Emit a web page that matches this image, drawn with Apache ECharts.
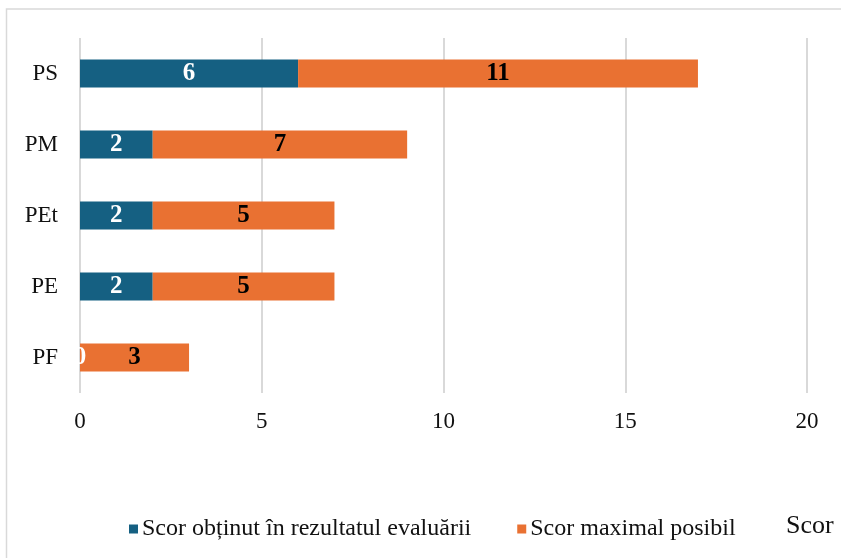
<!DOCTYPE html>
<html>
<head>
<meta charset="utf-8">
<script src="https://cdn.jsdelivr.net/npm/echarts@6/dist/echarts.min.js"></script>
<style>
  html, body { margin: 0; padding: 0; background: #ffffff; }
  #chart { width: 841px; height: 558px; }
</style>
</head>
<body>
<div id="chart"></div>
<script>
// Categories listed bottom to top on the vertical axis
const categories = ['PF', 'PE', 'PEt', 'PM', 'PS'];
// Score obtained in the evaluation
const scoreObtained = [0, 2, 2, 2, 6];
// Remaining points up to the maximum possible score
const scoreMaximal = [3, 5, 5, 7, 11];
const seriesNames = ['Scor obținut în rezultatul evaluării', 'Scor maximal posibil'];
const axisTitle = 'Scor';

const serif = '"Liberation Serif", "Times New Roman", serif';

const chart = echarts.init(document.getElementById('chart'));
chart.setOption({
  animation: false,
  backgroundColor: '#ffffff',
  color: ['#156082', '#e97132'],
  title: {
    text: axisTitle,
    left: 781,
    top: 508,
    textStyle: { fontFamily: serif, fontSize: 26, fontWeight: 'normal', color: '#111' }
  },
  graphic: [{
    type: 'rect',
    shape: { x: 6.5, y: 9, width: 900, height: 700 },
    style: { fill: 'none', stroke: '#d9d9d9', lineWidth: 1.5 },
    silent: true
  }],
  legend: {
    left: 124,
    top: 512,
    icon: 'rect',
    itemWidth: 9,
    itemHeight: 9,
    itemGap: 46,
    textStyle: { fontFamily: serif, fontSize: 24, color: '#111', padding: [0, 0, 0, -1] },
    data: seriesNames
  },
  grid: { left: 80, right: 34, top: 38, bottom: 165, containLabel: false },
  xAxis: {
    type: 'value',
    min: 0,
    max: 20,
    interval: 5,
    axisLine: { show: false },
    axisTick: { show: false },
    axisLabel: { fontFamily: serif, fontSize: 23, color: '#111', margin: 17 },
    splitLine: { lineStyle: { color: '#d9d9d9', width: 2 } }
  },
  yAxis: {
    type: 'category',
    data: categories,
    axisLine: { show: false },
    axisTick: { show: false },
    axisLabel: { fontFamily: serif, fontSize: 23, color: '#111', margin: 22 }
  },
  series: [
    {
      name: seriesNames[0],
      type: 'bar',
      stack: 'total',
      barWidth: 28,
      data: scoreObtained,
      label: {
        show: true,
        position: 'inside',
        fontFamily: serif,
        fontSize: 25,
        fontWeight: 'bold',
        color: '#ffffff'
      }
    },
    {
      name: seriesNames[1],
      type: 'bar',
      stack: 'total',
      barWidth: 28,
      data: scoreMaximal,
      label: {
        show: true,
        position: 'inside',
        fontFamily: serif,
        fontSize: 25,
        fontWeight: 'bold',
        color: '#000000'
      }
    }
  ]
});
</script>
</body>
</html>
